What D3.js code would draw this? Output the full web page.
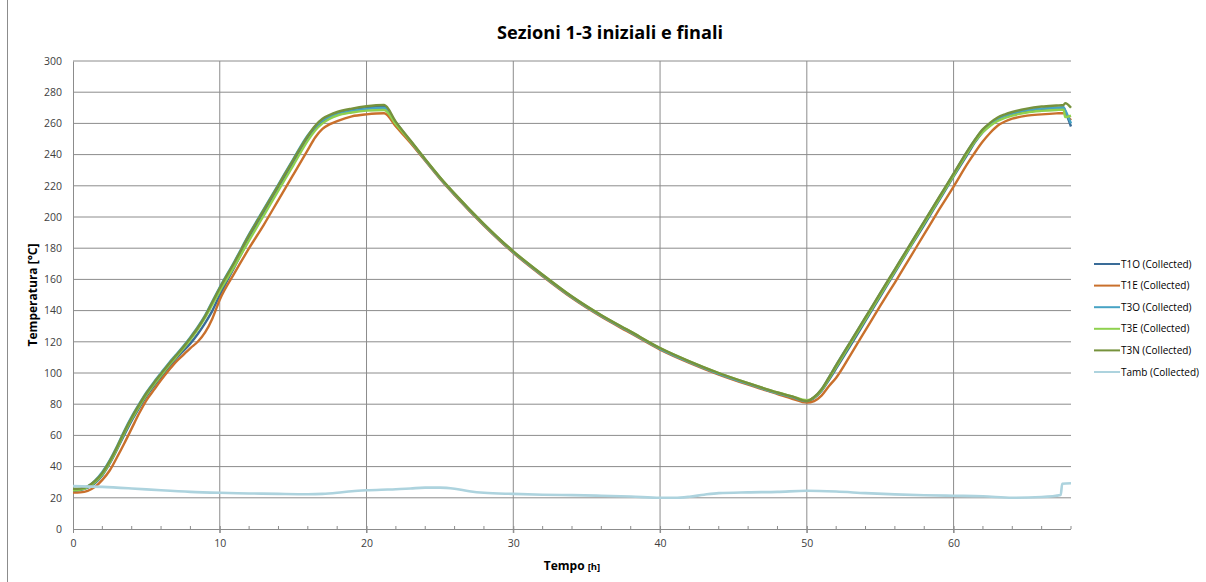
<!DOCTYPE html>
<html>
<head>
<meta charset="utf-8">
<script src="https://cdn.jsdelivr.net/npm/d3@7"></script>
<style>
  html, body { margin: 0; padding: 0; background: #ffffff; }
  svg { display: block; font-family: "Open Sans", Lato, sans-serif; }
</style>
</head>
<body>
<svg id="chart" width="1206" height="582"></svg>
<script>
// ---------------- data ----------------
const chartTitle = "Sezioni 1-3 iniziali e finali";
const yTitle = "Temperatura [°C]";
const xTitleMain = "Tempo";
const xTitleUnit = "[h]";

const xMajorTicks = [0, 10, 20, 30, 40, 50, 60];
const xMinorTicks = [2, 4, 6, 8, 12, 14, 16, 18, 22, 24, 26, 28, 32, 34, 36, 38, 42, 44, 46, 48, 52, 54, 56, 58, 62, 64, 66, 68];
const yTicks = [0, 20, 40, 60, 80, 100, 120, 140, 160, 180, 200, 220, 240, 260, 280, 300];

const hours = [0,0.5,1,1.5,2,2.5,3,3.5,4,4.5,5,5.5,6,6.5,7,7.5,8,8.5,9,9.5,10,
  11,12,13,14,15,16,
  16.5,17,17.5,18,19,20,21.2,
  22,23,24,25,26,28,30,32,34,36,38,40,42,44,46,48,49,50,
  50.5,51,51.5,52,53,54,55,56,57,58,59,60,61,61.5,62,62.5,63,63.5,64,65,66,67,67.5,67.6,68];

const t1o = [24.5,25,26.5,29.5,34.5,42,51,60.5,69.5,77.5,85,91.5,97.5,103.5,109,114,119,125,132,140,150,
  168,186,203,219,235,250.5,
  256.5,261,264,266,268.3,269.8,270.8,
  260,248,236.5,225,214.5,195,177.5,162.5,148.5,136.5,126,115.5,107,99.5,93,87,84.5,82,
  84,88.5,95.5,103,118,133.5,149,164.5,180,195,210.5,226,241,248.5,254.5,259,262.3,264.5,266,268,269.3,270,270.3,268,258];

const t1e = [23.3,23.5,24.5,27,31.5,37.5,46,55,64.5,74,82.5,89,95.5,101.5,107,111.5,116,120,126,135,147,
  164,180,195,211,227,243,
  251,256.5,259.5,261.5,264.5,265.8,266.5,
  258,247.5,236,224.5,214,194.5,177,162,148,136,125.5,115,106.5,99,92.5,86.5,83.5,81,
  82,85.5,91.5,97,112,127.5,143,158,173.5,189,204.5,219.5,235,242,248.5,254,258.5,261.2,263,265,265.8,266.4,266.6,266,262];

const t3o = [25.2,25.6,27.2,31,36.5,44,53,63,72,80,87.5,94,100,106,111.5,117,123,129.5,137,146,155,
  171.5,189,205,221,237,252.5,
  258,262,264.3,265.8,268,269.3,269.9,
  260.5,248.5,236.5,225,214.5,195,177.5,162.5,148.5,136.5,126,115.5,107,99.5,93,87,84.5,82,
  84.5,89.5,97,105,120.3,135.6,151,166.3,181.6,197,212.3,227.6,243,250,256,260,263,265,266.5,268.5,269.5,270,270.2,268.5,260];

const t3e = [24.8,25.2,26.8,30,35,42.5,51.5,61.5,70.5,78.5,86,92.5,98.5,104.5,110,115.5,121.5,128,135.5,144,152.5,
  168.5,185,201,217,233,249,
  255.5,260,263,265,267,268.2,268.6,
  259.5,248.5,237,225.5,215,195.5,178,163,149,137,126.5,116,107.5,100,93.5,87.5,85,82.5,
  84.3,89,96.3,104,119.3,134.6,150,165.3,180.6,196,211.3,226.6,242,249,254.5,258.5,261.5,263.5,265,267,268,268.6,268.8,264,265];

const t3n = [25.8,26,27.3,30.8,36,43.5,52.5,62.5,71.5,79.5,87,93.5,99.5,105.5,111,116.5,122.5,129,136.5,145.5,154.5,
  171,188.5,204.5,220.5,236.5,252,
  258.5,263,265.5,267.3,269.5,271,271.8,
  261,249,237,225.5,215,195.5,178,163,149,137,126.5,116,107.5,100,93.5,87.5,85,82,
  84.6,89.6,97.1,105,120.4,135.8,151.2,166.5,181.8,197.2,212.5,227.8,243.2,250.2,256.3,260.5,263.8,265.8,267.3,269.5,270.8,271.5,271.8,273,270];

const tambHours = [0,2,4,6,8,10,12,14,16,17,18,19,20,21,22,23,24,25,26,27,28,30,32,34,36,38,40,41,42,43,44,46,48,50,52,54,56,58,60,62,64,66,67.3,67.4,68];
const tamb = [27.5,27,26,24.8,23.8,23.2,22.8,22.5,22.3,22.5,23.2,24.2,24.8,25.2,25.5,26,26.5,26.5,25.8,24.2,23.2,22.5,22,21.7,21.3,20.8,20,20,20.7,22,23,23.5,23.8,24.5,24,23,22.2,21.6,21.3,21,20,20.5,21.8,29,29.3];

const seriesNames = ["T1O (Collected)", "T1E (Collected)", "T3O (Collected)", "T3E (Collected)", "T3N (Collected)", "Tamb (Collected)"];
const seriesColors = ["#3A6C98", "#C9702C", "#47A3C4", "#8FD14F", "#76923C", "#ADD3DE"];

// ---------------- chart ----------------
const svg = d3.select("#chart");
const FONT = "'Open Sans', Lato, sans-serif";
const plot = { left: 73, right: 1071, top: 61, bottom: 529 };
const x = d3.scaleLinear().domain([0, 68]).range([plot.left, plot.right]);
const y = d3.scaleLinear().domain([0, 300]).range([plot.bottom, plot.top]);
const gridColor = "#8C8C8C";
const textColor = "#404040";

// outer chart border (left edge visible in frame)
svg.append("line").attr("x1", 7.5).attr("x2", 7.5).attr("y1", 0).attr("y2", 582).attr("stroke", "#8C8C8C");

// horizontal gridlines
svg.append("g")
  .selectAll("line")
  .data(yTicks.filter(d => d > 0))
  .join("line")
  .attr("x1", plot.left).attr("x2", plot.right)
  .attr("y1", d => y(d)).attr("y2", d => y(d))
  .attr("stroke", gridColor).attr("stroke-width", 1);

// vertical gridlines (extend slightly below axis)
svg.append("g")
  .selectAll("line")
  .data(xMajorTicks.filter(d => d > 0))
  .join("line")
  .attr("x1", d => x(d)).attr("x2", d => x(d))
  .attr("y1", plot.top).attr("y2", plot.bottom + 4)
  .attr("stroke", gridColor).attr("stroke-width", 1);

// y axis
const yAxis = svg.append("g")
  .attr("transform", `translate(${plot.left},0)`)
  .call(d3.axisLeft(y).tickValues(yTicks).tickSize(0).tickPadding(11));
yAxis.select(".domain").attr("stroke", gridColor);
yAxis.selectAll("text").attr("fill", textColor).attr("font-size", 10.5).attr("font-family", FONT);

// x axis
const xAxis = svg.append("g")
  .attr("transform", `translate(0,${plot.bottom})`)
  .call(d3.axisBottom(x).tickValues(xMajorTicks).tickSize(4).tickPadding(7).tickFormat(d3.format("d")));
xAxis.select(".domain").attr("stroke", gridColor).attr("d", `M${plot.left},0.5H${plot.right}`);
xAxis.selectAll(".tick line").attr("stroke", gridColor).attr("y1", -3);
xAxis.selectAll("text").attr("fill", textColor).attr("font-size", 10.5).attr("font-family", FONT);

// minor ticks
svg.append("g")
  .selectAll("line")
  .data(xMinorTicks)
  .join("line")
  .attr("x1", d => x(d)).attr("x2", d => x(d))
  .attr("y1", plot.bottom - 3).attr("y2", plot.bottom)
  .attr("stroke", gridColor);

// series
const mainSeries = [t1o, t1e, t3o, t3e, t3n];
const line = d3.line().curve(d3.curveMonotoneX).x(d => x(d[0])).y(d => y(d[1]));
const seriesG = svg.append("g");
mainSeries.forEach((vals, i) => {
  seriesG.append("path")
    .datum(hours.map((h, k) => [h, vals[k]]))
    .attr("d", line)
    .attr("fill", "none")
    .attr("stroke", seriesColors[i])
    .attr("stroke-width", 2.4)
    .attr("stroke-linejoin", "round");
});
seriesG.append("path")
  .datum(tambHours.map((h, k) => [h, tamb[k]]))
  .attr("d", line)
  .attr("fill", "none")
  .attr("stroke", seriesColors[5])
  .attr("stroke-width", 2.6)
  .attr("stroke-linejoin", "round");

// title
svg.append("text")
  .attr("x", 610).attr("y", 39)
  .attr("text-anchor", "middle")
  .attr("font-size", 17.5).attr("font-weight", "bold").attr("fill", "#000")
  .attr("textLength", 226).attr("lengthAdjust", "spacingAndGlyphs")
  .text(chartTitle);

// y axis title
svg.append("text")
  .attr("transform", `translate(37,${(plot.top + plot.bottom) / 2}) rotate(-90)`)
  .attr("text-anchor", "middle")
  .attr("font-size", 12).attr("font-weight", "bold").attr("fill", "#000")
  .text(yTitle);

// x axis title
const xt = svg.append("text")
  .attr("x", (plot.left + plot.right) / 2).attr("y", 570)
  .attr("text-anchor", "middle")
  .attr("font-weight", "bold").attr("fill", "#000");
xt.append("tspan").attr("font-size", 12).text(xTitleMain + " ");
xt.append("tspan").attr("font-size", 9.5).text(xTitleUnit);

// legend
const legend = svg.append("g").attr("transform", "translate(1094,264)");
seriesNames.forEach((name, i) => {
  const g = legend.append("g").attr("transform", `translate(0,${i * 21.6})`);
  g.append("line").attr("x1", 0).attr("x2", 26).attr("y1", 0).attr("y2", 0)
    .attr("stroke", seriesColors[i]).attr("stroke-width", 2);
  g.append("text").attr("x", 27).attr("y", 3.5)
    .attr("font-size", 10).attr("fill", "#000")
    .text(name);
});
</script>
</body>
</html>
